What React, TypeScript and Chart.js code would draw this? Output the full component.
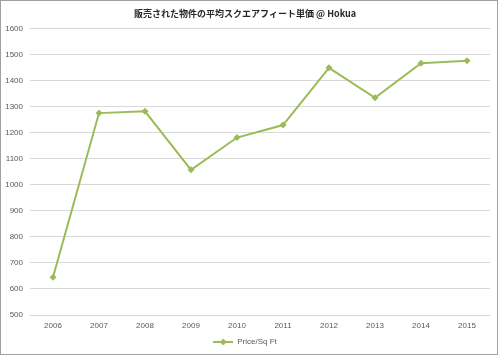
import React, { useEffect, useRef } from "react";
import { Chart, registerables } from "chart.js";

Chart.register(...registerables);

const titleText = "販売された物件の平均スクエアフィート単価 @ Hokua";
const years = ["2006", "2007", "2008", "2009", "2010", "2011", "2012", "2013", "2014", "2015"];
const pricePerSqFt = [645, 1276, 1283, 1058, 1182, 1230, 1450, 1335, 1468, 1477];
const seriesLabel = "Price/Sq Ft";
const yMin = 500;
const yMax = 1600;
const yStep = 100;

const GREEN = "#9BBB59";

function makeLegendGlyph(): HTMLCanvasElement {
  const c = document.createElement("canvas");
  c.width = 20;
  c.height = 8;
  const ctx = c.getContext("2d")!;
  ctx.strokeStyle = GREEN;
  ctx.lineWidth = 2;
  ctx.beginPath();
  ctx.moveTo(0, 4);
  ctx.lineTo(20, 4);
  ctx.stroke();
  ctx.fillStyle = GREEN;
  ctx.beginPath();
  ctx.moveTo(10, 0.5);
  ctx.lineTo(13.5, 4);
  ctx.lineTo(10, 7.5);
  ctx.lineTo(6.5, 4);
  ctx.closePath();
  ctx.fill();
  return c;
}

export default function App() {
  const ref = useRef<HTMLCanvasElement | null>(null);

  useEffect(() => {
    document.body.style.margin = "0";
    const canvas = ref.current;
    if (!canvas) return;
    const glyph = makeLegendGlyph();
    const chart = new Chart(canvas, {
      type: "line",
      data: {
        labels: years,
        datasets: [
          {
            label: seriesLabel,
            data: pricePerSqFt,
            borderColor: GREEN,
            backgroundColor: GREEN,
            borderWidth: 2,
            pointStyle: "rectRot",
            pointRadius: 3.5,
            pointBackgroundColor: GREEN,
            pointBorderColor: GREEN,
            pointBorderWidth: 0,
            tension: 0,
            fill: false,
          },
        ],
      },
      options: {
        animation: false,
        responsive: false,
        maintainAspectRatio: false,
        layout: { padding: { left: 0, right: 10, top: 0, bottom: 0 } },
        plugins: {
          title: {
            display: true,
            text: titleText,
            color: "#262626",
            font: { family: "'Noto Sans CJK JP', 'Liberation Sans', sans-serif", size: 9, weight: "bold" },
            padding: { top: 8, bottom: 10 },
          },
          legend: {
            display: true,
            position: "bottom",
            labels: {
              usePointStyle: true,
              pointStyle: glyph,
              pointStyleWidth: 20,
              padding: 6,
              color: "#595959",
              font: { family: "'Liberation Sans', Arial, sans-serif", size: 8 },
            },
          },
          tooltip: { enabled: false },
        },
        scales: {
          x: {
            type: "category",
            offset: true,
            grid: { display: false, drawTicks: false },
            border: { display: false },
            ticks: {
              color: "#595959",
              padding: 6,
              maxRotation: 0,
              font: { family: "'Liberation Sans', Arial, sans-serif", size: 8 },
            },
            afterFit: (scale: any) => {
              scale.height = 17;
            },
          },
          y: {
            min: yMin,
            max: yMax,
            grid: { color: "#D9D9D9", lineWidth: 1, drawTicks: false },
            border: { display: false },
            ticks: {
              stepSize: yStep,
              color: "#595959",
              padding: 7,
              font: { family: "'Liberation Sans', Arial, sans-serif", size: 8 },
              callback: (value: any) => String(value),
            },
            afterFit: (scale: any) => {
              scale.width = 30;
            },
          },
        },
      },
    });
    return () => chart.destroy();
  }, []);

  return (
    <div style={{ position: "relative", width: 500, height: 356, background: "#fff" }}>
      <canvas ref={ref} width={500} height={356} style={{ position: "absolute", left: 0, top: 0, width: 500, height: 356 }} />
      <div
        style={{
          position: "absolute",
          left: 0,
          top: 0,
          width: 498,
          height: 355,
          boxSizing: "border-box",
          border: "1px solid #A0A0A0",
          pointerEvents: "none",
        }}
      />
    </div>
  );
}
